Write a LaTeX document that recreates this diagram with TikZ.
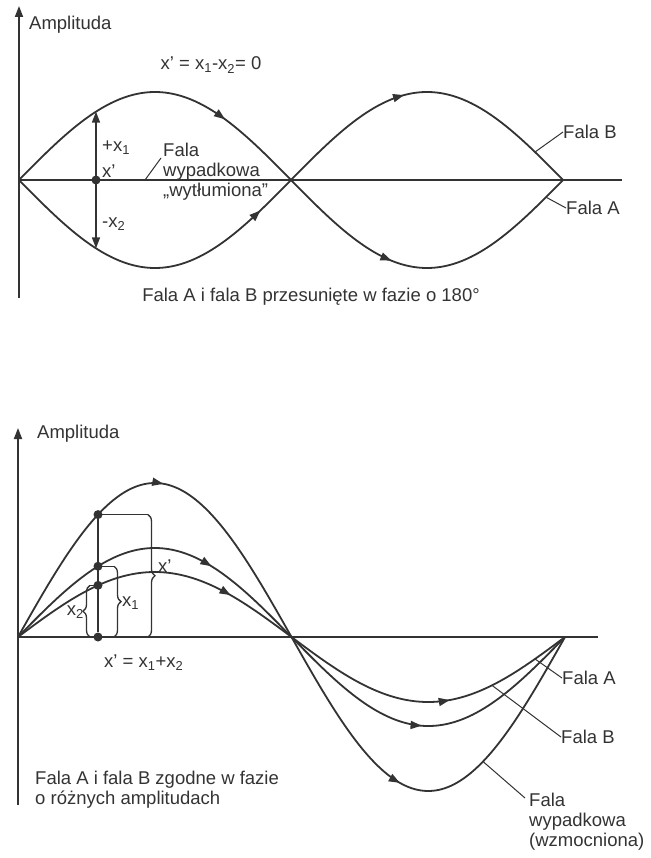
\documentclass[tikz,border=0pt]{standalone}
\usepackage{fontspec}
\setmainfont{Liberation Sans}
\usetikzlibrary{arrows.meta,calc,decorations.markings,decorations.pathreplacing}
\definecolor{ink}{HTML}{333333}
\tikzset{
  axisline/.style={line width=1.8pt, draw=ink, -{Triangle[length=11pt,width=8pt]}},
  zeroline/.style={line width=1.8pt, draw=ink},
  wave/.style={line width=1.8pt, draw=ink},
  tipat/.style={postaction={decorate}, decoration={markings,
    mark=at position #1 with {\arrow[ink]{Triangle[length=11pt,width=8pt]}}}},
  dblarr/.style={line width=1.6pt, draw=ink,
    {Triangle[length=11pt,width=8pt]}-{Triangle[length=11pt,width=8pt]}},
  dot/.style={circle, fill=ink, inner sep=0pt, minimum size=9pt},
  leader/.style={line width=1pt, draw=ink},
  thinline/.style={line width=1.3pt, draw=ink},
  bracket/.style={line width=1.3pt, draw=ink, decorate, decoration={brace, amplitude=7pt}},
  lbl/.style={font=\fontsize{18.5}{20}\selectfont, text=ink, inner sep=0pt}
}
\begin{document}
\begin{tikzpicture}[x=1pt, y=-1pt]
  \useasboundingbox (0,0) rectangle (650,858);
  % top: waves shifted by 180 degrees
  \draw[axisline] (19,298) -- (19,6);
  \node[lbl, anchor=west] (amp1) at (29,25) {Amplituda};
  \draw[zeroline] (19,180) -- (622,180);
  \draw[wave, tipat=0.73] plot[domain=19:291, samples=90] (\x, {180-88*sin((\x-19)/272*180)});
  \draw[wave, tipat=0.39] plot[domain=291:563, samples=90] (\x, {180+88*sin((\x-291)/272*180)});
  \draw[wave, tipat=0.87] plot[domain=19:291, samples=90] (\x, {180+88*sin((\x-19)/272*180)});
  \draw[wave, tipat=0.43] plot[domain=291:563, samples=90] (\x, {180-88*sin((\x-291)/272*180)});
  \coordinate (up1) at (96,{180-88*sin(77/272*180)});
  \coordinate (dn1) at (96,{180+88*sin(77/272*180)});
  \coordinate (onB) at (535,{180-88*sin(244/272*180)});
  \coordinate (onA) at (546,{180+88*sin(255/272*180)});
  \coordinate (onZ) at (145,180);
  \draw[dblarr] (up1) -- (dn1);
  \node[dot] (mid1) at (96,180) {};
  \node[lbl, anchor=west] (px1) at (102,148) {+x\textsubscript{1}};
  \node[lbl, anchor=west] (xp1) at (102,171) {x'};
  \node[lbl, anchor=west] (mx2) at (102,224) {-x\textsubscript{2}};
  \node[lbl, anchor=north west, align=left] (wyt) at (163,143) {Fala\\wypadkowa\\„wytłumiona”};
  \draw[leader] (onZ) -- ($(wyt.north west)+(-2,15)$);
  \node[lbl] (eq1) at (211,65) {x' = x\textsubscript{1}-x\textsubscript{2}= 0};
  \node[lbl, anchor=west] (fB1) at (563,132) {Fala B};
  \node[lbl, anchor=west] (fA1) at (566,208) {Fala A};
  \draw[leader] (onB) -- (fB1.west);
  \draw[leader] (onA) -- (fA1.west);
  \node[lbl] (cap1) at (311,297) {Fala A i fala B przesunięte w fazie o 180°};
  % bottom: waves in phase, different amplitudes
  \draw[axisline] (18,805) -- (18,428);
  \node[lbl, anchor=west] (amp2) at (37,434) {Amplituda};
  \draw[zeroline] (18,637) -- (598,637);
  \draw[wave, tipat=0.52] plot[domain=18:291.5, samples=90] (\x, {637-154*sin((\x-18)/273.5*180)});
  \draw[wave, tipat=0.43] plot[domain=291.5:565, samples=90] (\x, {637+154*sin((\x-291.5)/273.5*180)});
  \draw[wave, tipat=0.68] plot[domain=18:291.5, samples=90] (\x, {637-89*sin((\x-18)/273.5*180)});
  \draw[wave, tipat=0.48] plot[domain=291.5:565, samples=90] (\x, {637+89*sin((\x-291.5)/273.5*180)});
  \draw[wave, tipat=0.76] plot[domain=18:291.5, samples=90] (\x, {637-65*sin((\x-18)/273.5*180)});
  \draw[wave, tipat=0.57] plot[domain=291.5:565, samples=90] (\x, {637+65*sin((\x-291.5)/273.5*180)});
  \node[dot] (d0) at (98,637) {};
  \node[dot] (dR) at (98,{637-154*sin(80/273.5*180)}) {};
  \node[dot] (dB) at (98,{637-89*sin(80/273.5*180)}) {};
  \node[dot] (dA) at (98,{637-65*sin(80/273.5*180)}) {};
  \draw[wave] (dR) -- (d0);
  \draw[thinline] (dR.center) -- ++(50,0) coordinate (kR);
  \draw[bracket] (kR) -- (kR |- d0.center);
  \draw[thinline] (dB.center) -- ++(16,0) coordinate (kB);
  \draw[bracket] (kB) -- (kB |- d0.center);
  \draw[thinline] (dA.center) -- ++(-8,0) coordinate (kA);
  \draw[bracket] (kA |- d0.center) -- (kA);
  \node[lbl, anchor=west] (lxp) at (158,566) {x'};
  \node[lbl, anchor=west] (lx1) at (122,603) {x\textsubscript{1}};
  \node[lbl, anchor=east] (lx2) at (84,612) {x\textsubscript{2}};
  \node[lbl, anchor=west] (eq2) at (104,663) {x' = x\textsubscript{1}+x\textsubscript{2}};
  \coordinate (onA2) at (535,{637+65*sin(243.5/273.5*180)});
  \coordinate (onB2) at (492,{637+65*sin(200.5/273.5*180)});
  \coordinate (onR2) at (483,{637+154*sin(191.5/273.5*180)});
  \node[lbl, anchor=west] (fA2) at (562,678) {Fala A};
  \node[lbl, anchor=west] (fB2) at (561,737) {Fala B};
  \node[lbl, anchor=north west, align=left] (fR2) at (529,793) {Fala\\wypadkowa\\(wzmocniona)};
  \draw[leader] (onA2) -- (fA2.west);
  \draw[leader] (onB2) -- (fB2.west);
  \draw[leader] (onR2) -- ($(fR2.north west)+(-4,5)$);
  \node[lbl, anchor=north west, align=left] (cap2) at (35,771) {Fala A i fala B zgodne w fazie\\o różnych amplitudach};
\end{tikzpicture}
\end{document}
